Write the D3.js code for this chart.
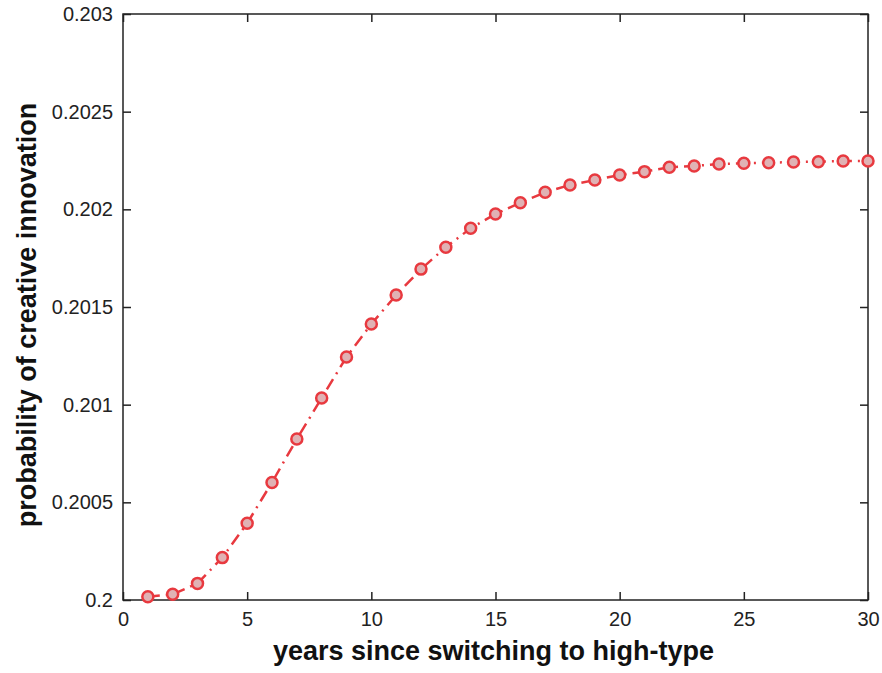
<!DOCTYPE html>
<html>
<head>
<meta charset="utf-8">
<script src="https://cdn.jsdelivr.net/npm/d3@7"></script>
<style>
  body { margin: 0; background: #fff; }
  svg { display: block; }
  .tick text { font-family: "Liberation Sans", Arial, sans-serif; font-size: 20px; fill: #222; }
  .axis-label { font-family: "Liberation Sans", Arial, sans-serif; font-size: 27px; font-weight: bold; fill: #111; }
</style>
</head>
<body>
<svg id="chart"></svg>
<script>
// years since switching
const years = d3.range(1, 31);
// probability of creative innovation
const prob = [
  0.200017, 0.200029, 0.200085, 0.200217, 0.200393, 0.200602, 0.200824, 0.201034,
  0.201244, 0.201413, 0.201561, 0.201694, 0.201806, 0.201903, 0.201976, 0.202034,
  0.202087, 0.202125, 0.202150, 0.202176, 0.202193, 0.202215, 0.202222, 0.202232,
  0.202236, 0.202239, 0.202242, 0.202244, 0.202247, 0.202247
];
const xTicks = [0, 5, 10, 15, 20, 25, 30];
const yTicks = [0.2, 0.2005, 0.201, 0.2015, 0.202, 0.2025, 0.203];
const yTickLabels = ["0.2", "0.2005", "0.201", "0.2015", "0.202", "0.2025", "0.203"];

const width = 882, height = 673;
const margin = {top: 14, right: 14, bottom: 73, left: 123};
const w = width - margin.left - margin.right;
const h = height - margin.top - margin.bottom;

const svg = d3.select('#chart').attr('width', width).attr('height', height);
const g = svg.append('g').attr('transform', `translate(${margin.left},${margin.top})`);

const x = d3.scaleLinear().domain([0, 30]).range([0, w]);
const y = d3.scaleLinear().domain([0.2, 0.203]).range([h, 0]);

// frame
g.append('rect')
  .attr('width', w).attr('height', h)
  .attr('fill', 'none').attr('stroke', '#222').attr('stroke-width', 1.5);

// axes: ticks pointing inward, MATLAB style
const tickLen = 8;
const xAxisG = g.append('g').attr('transform', `translate(0,${h})`)
  .call(d3.axisTop(x).tickValues(xTicks).tickSize(tickLen).tickFormat(d3.format('d')));
xAxisG.selectAll('text').attr('y', 12).attr('dy', '0.71em');
g.append('g')
  .call(d3.axisBottom(x).tickValues(xTicks).tickSize(tickLen).tickFormat(''));

const yAxisG = g.append('g')
  .call(d3.axisRight(y).tickValues(yTicks).tickSize(tickLen).tickFormat((d, i) => yTickLabels[i]));
yAxisG.selectAll('text').attr('x', -10).attr('text-anchor', 'end');
g.append('g').attr('transform', `translate(${w},0)`)
  .call(d3.axisLeft(y).tickValues(yTicks).tickSize(tickLen).tickFormat(''));

g.selectAll('.domain').remove();
g.selectAll('.tick line').attr('stroke', '#222').attr('stroke-width', 1.5);

// line
const line = d3.line().x((d, i) => x(years[i])).y(d => y(d));
g.append('path')
  .datum(prob)
  .attr('d', line)
  .attr('fill', 'none')
  .attr('stroke', '#e8393f')
  .attr('stroke-width', 2.5)
  .attr('stroke-dasharray', '12,6,2,6');

// markers
g.selectAll('.pt')
  .data(prob)
  .join('circle')
  .attr('class', 'pt')
  .attr('cx', (d, i) => x(years[i]))
  .attr('cy', d => y(d))
  .attr('r', 5.5)
  .attr('fill', '#e0b2b4')
  .attr('stroke', '#e8393f')
  .attr('stroke-width', 2.5);

// axis labels
svg.append('text')
  .attr('class', 'axis-label')
  .attr('x', margin.left + w / 2 - 2)
  .attr('y', 660)
  .attr('text-anchor', 'middle')
  .text('years since switching to high-type');

svg.append('text')
  .attr('class', 'axis-label')
  .attr('transform', `translate(36,${margin.top + h / 2 + 8}) rotate(-90)`)
  .attr('text-anchor', 'middle')
  .text('probability of creative innovation');
</script>
</body>
</html>
